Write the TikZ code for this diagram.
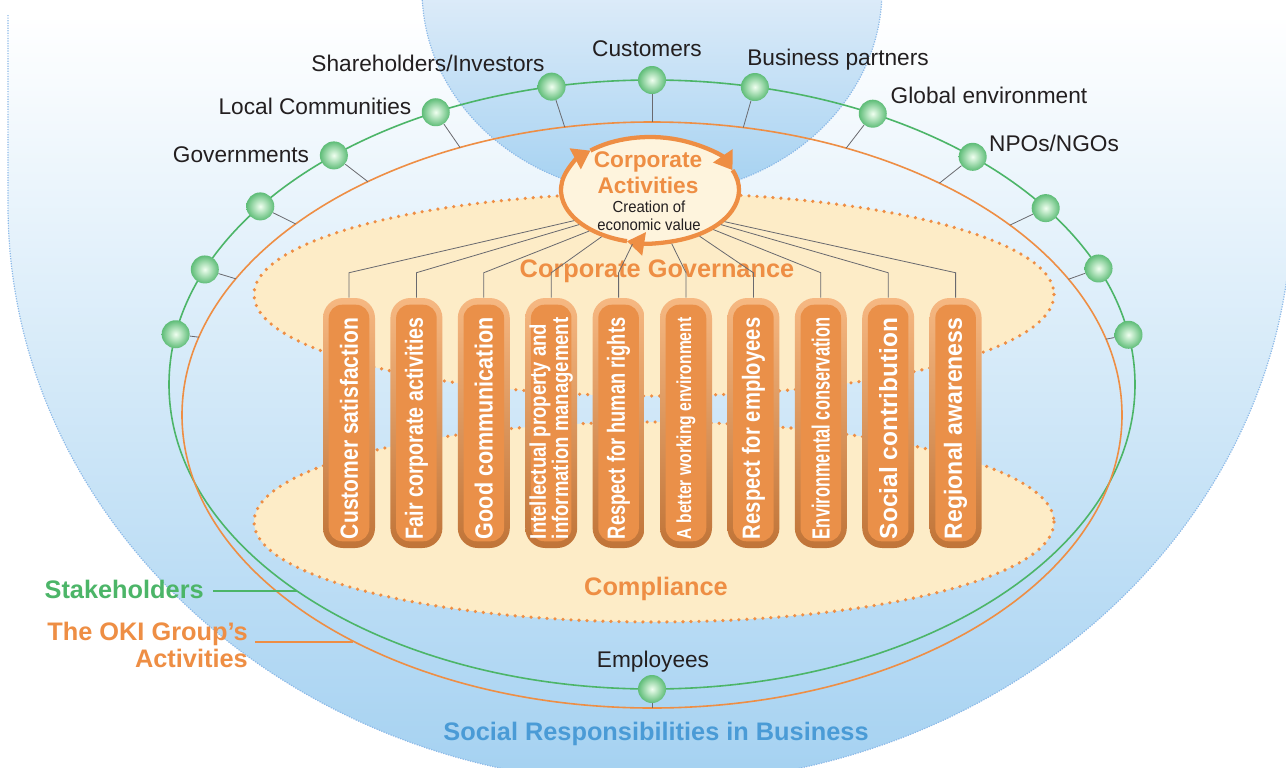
\documentclass[tikz,border=0pt]{standalone}
\usepackage{fontspec}
\setmainfont{Liberation Sans}
\newfontfamily\narrowfont[FakeStretch=0.93]{Liberation Sans}
\usepackage{graphicx}
\usetikzlibrary{arrows.meta,calc,positioning,shapes.geometric}

\definecolor{okiorange}{RGB}{238,142,68}
\definecolor{okigreen}{RGB}{76,181,104}
\definecolor{okiblue}{RGB}{74,155,214}
\definecolor{skyblue}{RGB}{164,209,241}
\definecolor{skytop}{RGB}{222,236,249}
\definecolor{dotblue}{RGB}{140,185,232}
\definecolor{cream}{RGB}{253,236,199}
\definecolor{linegray}{RGB}{105,105,110}
\definecolor{inkblack}{RGB}{35,31,32}
\definecolor{pillmid}{RGB}{234,144,73}
\definecolor{pilltop}{RGB}{246,184,130}
\definecolor{pillbot}{RGB}{192,116,56}

\newcommand{\pillartext}[3]{\resizebox{#1}{#2}{\shortstack[l]{#3}}}

\begin{document}
\begin{tikzpicture}[x=0.75pt,y=0.75pt,yscale=-1,xscale=1,
  link/.style={draw=linegray, line width=0.6pt},
  stakeball/.style={circle, minimum size=21pt, inner sep=0pt, inner color=green!6!white, outer color=okigreen!90!white},
  lbl/.style={text=inkblack, font=\fontsize{17}{20}\selectfont, inner sep=0pt},
  zone/.style={font=\bfseries\fontsize{19}{20}\selectfont, inner sep=0pt},
  pillar/.style={rectangle, rounded corners=15pt, minimum width=39pt, minimum height=187.5pt, top color=pilltop, bottom color=pillbot, inner sep=0pt},
  pilltxt/.style={rotate=90, anchor=west, inner sep=0pt, text=white, font=\bfseries\fontsize{10}{10}\selectfont},
  dotrim/.style={draw=okiorange, line width=2.7pt, dash pattern=on 0pt off 6pt, line cap=round},
  skyrim/.style={draw=dotblue, line width=0.9pt, densely dotted},
  actring/.style={draw=okiorange, line width=3.2pt, -{Triangle[length=13pt,width=17pt]}}
]
\useasboundingbox (0,0) rectangle (1286,768);
\fill[white] (0,0) rectangle (1286,768);

%Social responsibilities area
\shade[top color=white, bottom color=skyblue] (8,15) -- (8,205) arc[start angle=180, end angle=0, x radius=642, y radius=579] -- (1292,15) -- cycle;
\draw[skyrim] (8,15) -- (8,205) arc[start angle=180, end angle=0, x radius=642, y radius=579];
%Top half disk
\shade[top color=skytop, bottom color=skyblue] (422,-10) arc[start angle=180, end angle=0, x radius=230, y radius=205] -- cycle;
\draw[skyrim] (422,-10) arc[start angle=180, end angle=0, x radius=230, y radius=205];

%Governance and compliance
\draw[dotrim, fill=cream] (654,294.5) ellipse [x radius=400, y radius=101.5];
\draw[dotrim, fill=cream] (654,522) ellipse [x radius=400, y radius=100];

%Stakeholders and group rings
\coordinate (stkc) at (652,384.5);
\coordinate (okic) at (652,415);
\draw[okigreen, line width=1.2pt] (stkc) ellipse [x radius=483, y radius=304.5];
\draw[okiorange, line width=1.2pt] (okic) ellipse [x radius=470, y radius=293];

%Balls
\foreach \i/\gt/\ot in {1/228.8/232.8, 2/243.4/245.9, 3/258/259.3, 4/270/270, 5/282.3/281.2, 6/297.2/294.4, 7/311.6/307.7, 8/324.6/319.6, 9/337.6/332.4, 10/350.6/345, 11/215.8/220.7, 12/202.2/207.7, 13/189.5/195.4, 14/90/90}{
  \coordinate (o\i) at ($(okic)+(\ot:470 and 293)$);
  \node[stakeball] (b\i) at ($(stkc)+(\gt:483 and 304.5)$) {};
  \draw[link] (b\i) -- (o\i);
}

% Text Node
\node[lbl] (govt) at (241,155) {Governments};
\node[lbl] (local) at (315,106) {Local Communities};
\node[lbl] (share) at (428,63) {Shareholders/Investors};
\node[lbl] (cust) at (647,49) {Customers};
\node[lbl] (partner) at (838,60) {Business partners};
\node[lbl] (globe) at (989,95) {Global environment};
\node[lbl] (npo) at (1054,143) {NPOs/NGOs};
\node[lbl] (empl) at (653,662) {Employees};

% Side labels
\node[zone, text=okigreen, anchor=east] (stk) at (204,589) {Stakeholders};
\node[zone, text=okiorange, anchor=east, align=right] (oki) at (248,645) {The OKI Group’s\\Activities};
\coordinate (stkend) at (297,591);
\coordinate (okiend) at (353,642);
\draw[okigreen, line width=1pt] (stk.east |- stkend) ++(9,0) -- (stkend);
\draw[okiorange, line width=1pt] (oki.east |- okiend) ++(7,0) -- (okiend);
\node[zone, text=okiblue] (srb) at (656,734) {Social Responsibilities in Business};

%Corporate activities
\node[ellipse, fill=cream!60!white, minimum width=133.5pt, minimum height=79.5pt, inner sep=0pt, outer sep=1.6pt] (act) at (650,190) {};
\draw[actring] (act.center) ++(105:89 and 53) arc[start angle=105, end angle=228, x radius=89, y radius=53];
\draw[actring] (act.center) ++(228:89 and 53) arc[start angle=228, end angle=338, x radius=89, y radius=53];
\draw[actring] (act.center) ++(338:89 and 53) arc[start angle=338, end angle=465, x radius=89, y radius=53];
\node[text=okiorange, font=\bfseries\fontsize{17}{19.5}\selectfont, align=center, inner sep=0pt] (acttl) at (648,173) {Corporate\\Activities};
\node[text=inkblack, font=\narrowfont\fontsize{12}{13.5}\selectfont, align=center, inner sep=0pt] (actsb) at (649,216) {Creation of\\economic value};

\node[zone, text=okiorange] (gov) at (657,271) {Corporate Governance};
\node[zone, text=okiorange] (comp) at (656,589) {Compliance};

%Pillars
\foreach \i/\ang/\txth/\lab in {
  1/202.6/13.5/{Customer satisfaction},
  2/206.6/13.5/{Fair corporate activities},
  3/214.3/13.5/{Good communication},
  4/224.4/29/{Intellectual property and\\[-2.5pt]information management},
  5/252.5/13.5/{Respect for human rights},
  6/292/11/{A better working environment},
  7/317/13.5/{Respect for employees},
  8/328.4/13.5/{Environmental conservation},
  9/334/13.5/{Social contribution},
  10/337/13.5/{Regional awareness}}{
  \node[pillar] (p\i) at ({349+67.4*(\i-1)},423) {};
  \fill[pillmid, rounded corners=10pt] ($(p\i.north west)+(6,7)$) rectangle ($(p\i.south east)+(-6,-7)$);
  \node[pilltxt] (t\i) at ($(p\i.south)+(0,-9)$) {\pillartext{166pt}{\txth pt}{\lab}};
  \draw[link] (act.\ang) -- ($(p\i.north)+(0,-25)$) -- (p\i.north);
}

\end{tikzpicture}
\end{document}
